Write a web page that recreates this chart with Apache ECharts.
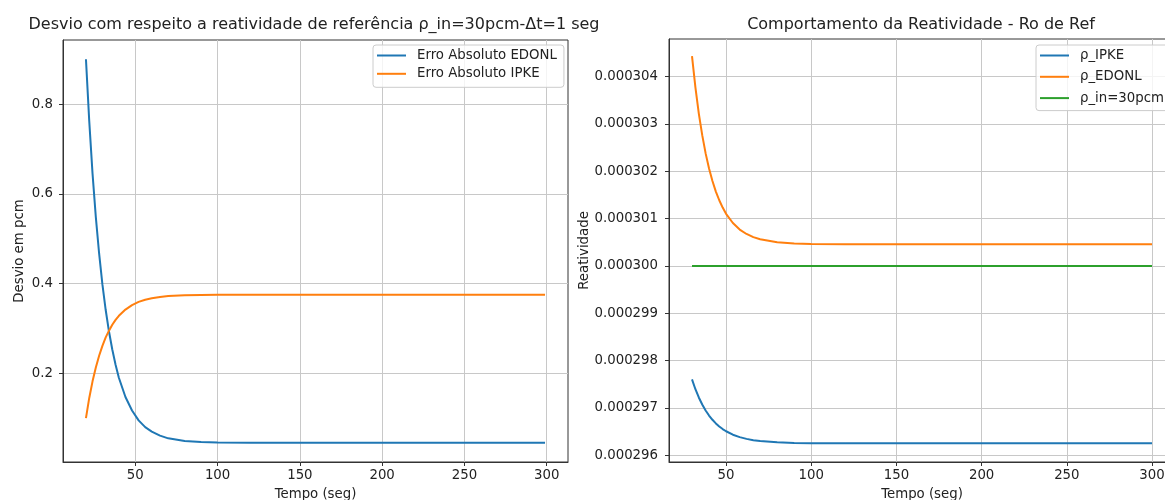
<!DOCTYPE html>
<html>
<head>
<meta charset="utf-8">
<script src="https://cdn.jsdelivr.net/npm/echarts@6/dist/echarts.min.js"></script>
<style>
html,body{margin:0;padding:0;background:#fff;}
#c{width:1165px;height:500px;}
</style>
</head>
<body>
<div id="c"></div>
<script>
// ---- data ----
const tLeft = [20,22,24,26,28,30,32,34,36,38,40,44,48,52,56,60,65,70,80,90,100,120,150,200,250,299];
const erroEdonl = [0.900,0.762,0.645,0.548,0.467,0.398,0.341,0.293,0.253,0.219,0.190,0.147,0.117,0.095,0.080,0.070,0.061,0.055,0.049,0.047,0.0457,0.045,0.045,0.045,0.045,0.045];
const erroIpke = [0.100,0.145,0.182,0.213,0.239,0.261,0.280,0.295,0.308,0.319,0.328,0.342,0.352,0.359,0.364,0.367,0.370,0.372,0.374,0.3745,0.375,0.375,0.375,0.375,0.375,0.375];

const tRight = [30,32,34,36,38,40,42,44,46,48,50,54,58,62,66,70,80,90,100,120,150,200,250,300];
const rhoEdonl = [3.04427e-4,3.03768e-4,3.03216e-4,3.02760e-4,3.02375e-4,3.02057e-4,3.01791e-4,3.01569e-4,3.01386e-4,3.01231e-4,3.01100e-4,3.00906e-4,3.00767e-4,3.00674e-4,3.00607e-4,3.00561e-4,3.00499e-4,3.00474e-4,3.00464e-4,3.00458e-4,3.00457e-4,3.00457e-4,3.00457e-4,3.00457e-4];
const rhoIpke = [2.97604e-4,2.97396e-4,2.97222e-4,2.97073e-4,2.96947e-4,2.96841e-4,2.96751e-4,2.96674e-4,2.96610e-4,2.96555e-4,2.96509e-4,2.96436e-4,2.96385e-4,2.96348e-4,2.96321e-4,2.96302e-4,2.96275e-4,2.96263e-4,2.96258e-4,2.96255e-4,2.96254e-4,2.96254e-4,2.96254e-4,2.96254e-4];
const tIn = [30,300];
const rhoIn = [3.0e-4,3.0e-4];

const xTicks = [50,100,150,200,250,300];
const yTicksLeft = [0.2,0.4,0.6,0.8];
const yTicksRight = [0.000296,0.000297,0.000298,0.000299,0.000300,0.000301,0.000302,0.000303,0.000304];

const titleLeft = 'Desvio com respeito a reatividade de referência ρ_in=30pcm-Δt=1 seg';
const titleRight = 'Comportamento da Reatividade - Ro de Ref';

// ---- helpers ----
const pairs = (xs, ys) => xs.map((x, i) => [x, ys[i]]);
const FONT = 'DejaVu Sans';
const FS = 13.3;
const C_BLUE = '#1f77b4', C_ORANGE = '#ff7f0e', C_GREEN = '#2ca02c';

function xAxisCfg(gridIndex, min, max) {
  return {
    type: 'value', gridIndex, min, max,
    name: 'Tempo (seg)', nameLocation: 'middle', nameGap: 26,
    nameTextStyle: {fontFamily: FONT, fontSize: FS, color: '#222'},
    axisLine: {show: true, onZero: false, lineStyle: {color: '#333', width: 1}},
    axisTick: {show: true, inside: false, length: 4, customValues: xTicks, lineStyle: {color: '#333', width: 1}},
    axisLabel: {customValues: xTicks, margin: 7, fontFamily: FONT, fontSize: FS, color: '#222'},
    splitLine: {show: true, lineStyle: {color: '#c8c8c8', width: 1}}
  };
}
function yAxisCfg(gridIndex, min, max, ticks, name, nameGap, margin, fmt) {
  return {
    type: 'value', gridIndex, min, max,
    name, nameLocation: 'middle', nameGap, nameRotate: 90,
    nameTextStyle: {fontFamily: FONT, fontSize: FS, color: '#222'},
    axisLine: {show: true, onZero: false, lineStyle: {color: '#333', width: 1}},
    axisTick: {show: true, inside: false, length: 4, customValues: ticks, lineStyle: {color: '#333', width: 1}},
    axisLabel: {customValues: ticks, margin, fontFamily: FONT, fontSize: FS, color: '#222', formatter: fmt},
    splitLine: {show: true, lineStyle: {color: '#c8c8c8', width: 1}}
  };
}
function lineSeries(name, xi, yi, data, color) {
  return {
    name, type: 'line', xAxisIndex: xi, yAxisIndex: yi, data,
    showSymbol: false, symbol: 'none',
    lineStyle: {color, width: 2}, itemStyle: {color},
    emphasis: {disabled: true}, animation: false, clip: true
  };
}
const legendBase = {
  orient: 'vertical', icon: 'rect', itemWidth: 29, itemHeight: 2,
  backgroundColor: 'rgba(255,255,255,0.8)', borderColor: '#cccccc', borderWidth: 1, borderRadius: 3,
  textStyle: {fontFamily: FONT, fontSize: FS, color: '#222', lineHeight: 15, padding: [0,0,0,6]},
  selectedMode: false
};
const gridBase = {show: true, borderColor: '#333', borderWidth: 1, backgroundColor: 'transparent', containLabel: false, outerBoundsMode: 'none'};

const chart = echarts.init(document.getElementById('c'), null, {renderer: 'canvas'});
chart.setOption({
  animation: false,
  backgroundColor: '#fff',
  title: [
    {text: titleLeft, left: 309, top: 12, textAlign: 'center', textStyle: {fontFamily: FONT, fontSize: 16, fontWeight: 'normal', color: '#222'}},
    {text: titleRight, left: 916, top: 12, textAlign: 'center', textStyle: {fontFamily: FONT, fontSize: 16, fontWeight: 'normal', color: '#222'}}
  ],
  grid: [
    Object.assign({}, gridBase, {left: 63, top: 40, width: 505, height: 422}),
    Object.assign({}, gridBase, {left: 669, top: 39, width: 506, height: 423})
  ],
  xAxis: [xAxisCfg(0, 6.05, 312.95), xAxisCfg(1, 16.5, 313.5)],
  yAxis: [
    yAxisCfg(0, 0.00225, 0.94275, yTicksLeft, 'Desvio em pcm', 37, 10, v => v.toFixed(1)),
    yAxisCfg(1, 0.00029586, 0.00030479, yTicksRight, 'Reatividade', 78, 11, v => v.toFixed(6))
  ],
  legend: [
    Object.assign({}, legendBase, {left: 373, top: 45, padding: [3, 7, 6, 4], itemGap: 3.3, data: ['Erro Absoluto EDONL', 'Erro Absoluto IPKE']}),
    Object.assign({}, legendBase, {left: 1036, top: 45, padding: [3, 7, 5, 4], itemGap: 6.3, data: ['ρ_IPKE', 'ρ_EDONL', 'ρ_in=30pcm']})
  ],
  series: [
    lineSeries('Erro Absoluto EDONL', 0, 0, pairs(tLeft, erroEdonl), C_BLUE),
    lineSeries('Erro Absoluto IPKE', 0, 0, pairs(tLeft, erroIpke), C_ORANGE),
    lineSeries('ρ_IPKE', 1, 1, pairs(tRight, rhoIpke), C_BLUE),
    lineSeries('ρ_EDONL', 1, 1, pairs(tRight, rhoEdonl), C_ORANGE),
    lineSeries('ρ_in=30pcm', 1, 1, pairs(tIn, rhoIn), C_GREEN)
  ]
});
</script>
</body>
</html>
